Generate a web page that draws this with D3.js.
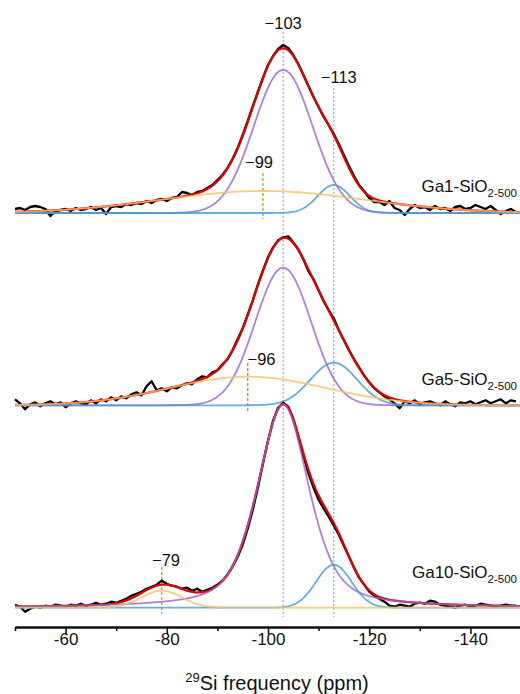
<!DOCTYPE html>
<html>
<head>
<meta charset="utf-8">
<script src="https://cdn.jsdelivr.net/npm/d3@7"></script>
<style>
  body { margin: 0; background: #fff; }
  svg { display: block; }
  text { font-family: "Liberation Sans", Arial, sans-serif; fill: #111; }
</style>
</head>
<body>
<svg id="chart" width="520" height="694"></svg>
<script>
// Chemical shift grid of the recorded spectra (ppm), 1 ppm steps from -50 to -149
const shiftStart = -50, shiftEnd = -150, shiftStep = -1;

// Measured 29Si MAS NMR intensities (arbitrary units) on that grid
const ga1Intensity = [
  4, 5, 3, 6, 7, 6, 4, -3, 2, 3,
  4, 2, 5, 3, 4, 6, 3, 5, -1, 6,
  7, 6, 9, 8, 10, 9, 12, 10, 13, 14,
  12, 15, 16, 21, 20, 18, 21, 22, 25, 28,
  33, 38, 45, 54, 65, 78, 92, 107, 121, 135,
  148, 157, 164, 168, 165, 158, 149, 138, 127, 116,
  106, 96, 88, 79, 69, 58, 47, 37, 28, 22,
  15, 11, 11, 8, 12, 5, 3, -2, 4, 8,
  5, 6, 3, 7, 4, 5, 2, 6, 7, 4,
  5, 8, 6, 4, 7, 3, -1, 2, 4, 1
];
const ga5Intensity = [
  6, 2, -4, 1, 3, -1, 2, 4, 1, 3,
  -2, 2, 4, 2, 1, 5, 2, 6, 4, 8,
  5, 9, 7, 11, 13, 10, 19, 24, 15, 17,
  14, 18, 17, 20, 22, 21, 26, 29, 28, 33,
  35, 41, 46, 55, 66, 77, 91, 105, 121, 135,
  148, 158, 165, 168, 169, 163, 156, 146, 134, 126,
  115, 104, 95, 87, 75, 65, 55, 46, 38, 30,
  23, 17, 13, 9, 6, 2, -3, 4, 2, 5,
  1, 3, 4, 2, 0, 4, 1, -1, 3, 2,
  4, 1, 3, 5, 2, 4, 6, 2, 5, 4
];
const ga10Intensity = [
  3, 1, -4, -1, 1, 0, 2, 1, 3, 2,
  1, 3, 2, 4, 2, 3, 5, 3, 4, 6,
  5, 7, 9, 12, 14, 16, 19, 21, 23, 27,
  24, 22, 21, 19, 20, 17, 19, 16, 18, 20,
  23, 27, 33, 41, 51, 63, 79, 98, 120, 144,
  167, 187, 200, 205, 201, 189, 171, 152, 134, 120,
  108, 99, 91, 82, 73, 62, 51, 40, 30, 23,
  16, 12, 9, 6, 2, 1, 3, 2, 1, 4,
  5, 4, 7, 6, 3, 2, 1, 0, 2, 3,
  1, 2, 4, 3, 2, 1, 2, 3, 2, 2
];

const sampleNames = ["Ga1", "Ga5", "Ga10"];

// Deconvolution components: position (ppm), height, FWHM (ppm), Lorentzian fraction
const mainCenter = [-103, -103, -103];
const mainHeight = [143, 137.6, 203];
const mainFwhm = [13.7, 13.0, 12.0];
const mainEta = [0, 0, 0.5];

const highCenter = [-113, -113, -113];
const highHeight = [28, 42.6, 43];
const highFwhm = [7.5, 10.8, 8.2];
const highEta = [0, 0, 0];

const lowCenter = [-99, -96, -79];
const lowHeight = [22, 28.6, 17];
const lowFwhm = [47.1, 36.3, 9.4];
const lowEta = [0, 0, 0];

// Labelled positions
const sharedPeaks = [-103, -113];
const samplePeaks = [-99, -96, -79];

// Axis ticks
const majorTicks = [-60, -80, -100, -120, -140];
const minorTicks = [-50, -70, -90, -110, -130, -150];

const colors = {
  data: "#000000",
  fit: "#e00000",
  main: "#9863cc",
  high: "#3f9bd2",
  low: "#f5c064",
  mainGuide: "#b799e6",
  highGuide: "#79bcd6",
  lowGuide: ["#c9a048", "#d0824c", "#c8a25a"]
};

const svg = d3.select("#chart");
const x = d3.scaleLinear().domain([-50, -150]).range([15, 521]);
const y = d3.scaleLinear().domain([0, 600]).range([627, 27]);

// vertical stacking of the three spectra (intensity units)
const stackOffset = [414, 221.7, 19.3];

const shifts = d3.range(shiftStart, shiftEnd, shiftStep);
const fine = d3.range(shiftStart, shiftEnd - 0.01, -0.2);
const spectra = [ga1Intensity, ga5Intensity, ga10Intensity];

function pseudoVoigt(s, c, h, w, eta) {
  const d = (s - c) / w;
  const g = Math.exp(-4 * Math.LN2 * d * d);
  const l = 1 / (1 + 4 * d * d);
  return h * (eta * l + (1 - eta) * g);
}

const plot = svg.append("g");

// guide lines at the shared peak positions
plot.append("line")
  .attr("x1", x(sharedPeaks[0])).attr("x2", x(sharedPeaks[0]))
  .attr("y1", 32).attr("y2", 617)
  .attr("stroke", colors.mainGuide).attr("stroke-width", 1.2)
  .attr("stroke-dasharray", "2,2");
plot.append("line")
  .attr("x1", x(sharedPeaks[1])).attr("x2", x(sharedPeaks[1]))
  .attr("y1", 88).attr("y2", 617)
  .attr("stroke", colors.highGuide).attr("stroke-width", 1.2)
  .attr("stroke-dasharray", "2,2");

const guideTop = [173, 363, 567];

sampleNames.forEach((name, i) => {
  const off = stackOffset[i];
  const g = plot.append("g");
  const line = d3.line().x(d => x(d[0])).y(d => y(d[1] + off));

  const comp = (c, h, w, e) => fine.map(s => [s, pseudoVoigt(s, c, h, w, e)]);
  const main = comp(mainCenter[i], mainHeight[i], mainFwhm[i], mainEta[i]);
  const high = comp(highCenter[i], highHeight[i], highFwhm[i], highEta[i]);
  const low = comp(lowCenter[i], lowHeight[i], lowFwhm[i], lowEta[i]);
  const fit = fine.map((s, k) => [s, main[k][1] + high[k][1] + low[k][1]]);

  // sample-specific peak marker
  g.append("line")
    .attr("x1", x(samplePeaks[i])).attr("x2", x(samplePeaks[i]))
    .attr("y1", guideTop[i]).attr("y2", y(off) + 6)
    .attr("stroke", colors.lowGuide[i]).attr("stroke-width", 1.4)
    .attr("stroke-dasharray", "3,2");

  g.append("path")
    .datum(shifts.map((s, k) => [s, spectra[i][k]]))
    .attr("d", line)
    .attr("fill", "none").attr("stroke", colors.data)
    .attr("stroke-width", 2.3).attr("stroke-linejoin", "round");

  g.append("path").datum(fit).attr("d", line)
    .attr("fill", "none").attr("stroke", colors.fit).attr("stroke-width", 2.2);

  [[main, colors.main], [high, colors.high], [low, colors.low]].forEach(([pts, col]) => {
    g.append("path").datum(pts).attr("d", line)
      .attr("fill", "none").attr("stroke", col)
      .attr("stroke-width", 1.8).attr("stroke-opacity", 0.8);
  });
});

// peak labels
const labelFont = 16.5;
plot.append("text").attr("x", x(sharedPeaks[0])).attr("y", 29)
  .attr("text-anchor", "middle").attr("font-size", labelFont)
  .text("\u2212" + Math.abs(sharedPeaks[0]));
plot.append("text").attr("x", x(sharedPeaks[1]) + 5).attr("y", 83)
  .attr("text-anchor", "middle").attr("font-size", labelFont)
  .text("\u2212" + Math.abs(sharedPeaks[1]));

const sampleLabelPos = [[259, 168], [261.5, 365], [166, 565.5]];
samplePeaks.forEach((p, i) => {
  plot.append("text")
    .attr("x", sampleLabelPos[i][0]).attr("y", sampleLabelPos[i][1])
    .attr("text-anchor", "middle").attr("font-size", labelFont)
    .text("\u2212" + Math.abs(p));
});

// sample names
const nameBaseline = [191.5, 385, 578];
sampleNames.forEach((name, i) => {
  const t = plot.append("text").attr("x", 517).attr("y", nameBaseline[i])
    .attr("text-anchor", "end").attr("font-size", 17);
  t.append("tspan").text(name + "-SiO");
  t.append("tspan").attr("font-size", 11.5).attr("dy", 5).text("2-500");
});

// x axis
const axisY = 627;
const major = svg.append("g").attr("transform", `translate(0,${axisY})`)
  .call(d3.axisBottom(x).tickValues(majorTicks).tickSize(7).tickSizeOuter(0)
    .tickFormat(d => String(d)));
const minor = svg.append("g").attr("transform", `translate(0,${axisY})`)
  .call(d3.axisBottom(x).tickValues(minorTicks).tickSize(4).tickSizeOuter(0)
    .tickFormat(""));
[major, minor].forEach(a => {
  a.select(".domain").attr("stroke", "#111").attr("stroke-width", 2);
  a.selectAll(".tick line").attr("stroke", "#111").attr("stroke-width", 1.6);
});
major.selectAll(".tick text")
  .attr("font-size", 17).attr("fill", "#111")
  .attr("y", 18).attr("dy", 0)
  .style("font-family", '"Liberation Sans", Arial, sans-serif');

// axis title
const title = svg.append("text").attr("x", 277).attr("y", 690)
  .attr("text-anchor", "middle").attr("font-size", 20);
title.append("tspan").attr("font-size", 13).attr("dy", -8).text("29");
title.append("tspan").attr("dy", 8).text("Si frequency (ppm)");
</script>
</body>
</html>
